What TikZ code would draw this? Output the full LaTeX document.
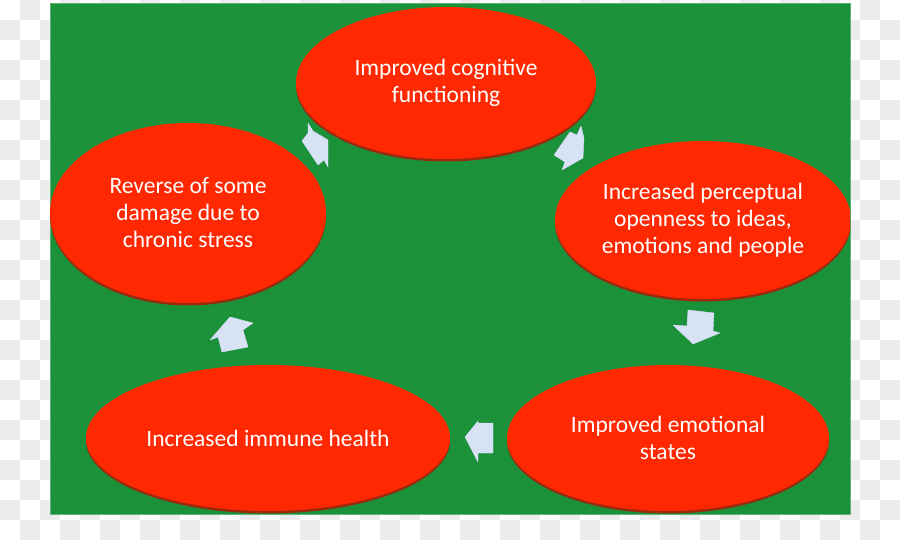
\documentclass[tikz,border=0pt]{standalone}
\usepackage{fontspec}
\setmainfont{Carlito}
\usetikzlibrary{shapes.geometric,shadows}
\definecolor{bggreen}{RGB}{27,145,58}
\definecolor{bubred}{RGB}{255,40,0}
\definecolor{bubshadow}{RGB}{170,30,10}
\definecolor{arrowblue}{RGB}{216,226,245}
\definecolor{checkgray}{RGB}{236,236,236}
\tikzset{
  bubble/.style={ellipse, fill=bubred, inner sep=0pt, text=white, align=center,
    font=\fontsize{23.5}{27}\selectfont,
    drop shadow={shadow xshift=0pt, shadow yshift=-2.5pt, fill=bubshadow, opacity=0.9}},
  blockarrow/.style={fill=arrowblue, draw=white!85!blue, line width=0.4pt, line join=round}
}
\begin{document}
\begin{tikzpicture}[x=1pt,y=-1pt]
\useasboundingbox (0,0) rectangle (900,540);
% transparency checkerboard
\fill[white] (0,0) rectangle (900,540);
\foreach \i in {0,...,44}{
  \foreach \j in {0,...,26}{
    \pgfmathparse{int(mod(\i+\j,2))}
    \ifnum\pgfmathresult=1
      \fill[checkgray] (\i*20,\j*20) rectangle ++(20,20);
    \fi
  }
}
% green panel
\fill[bggreen] (50,3) rectangle (850,514);
\draw[bggreen!70!white, line width=0.6pt] (50,3) rectangle (850,514);
\begin{scope}
\clip (50,3) rectangle (850,514);
\node[bubble, minimum width=300pt, minimum height=152pt] (cog) at (446,83) {Improved cognitive\\functioning};
\node[bubble, minimum width=296pt, minimum height=158pt] (perc) at (703,220) {Increased perceptual\\openness to ideas,\\emotions and people};
\node[bubble, minimum width=322pt, minimum height=146pt] (emo) at (668,438) {Improved emotional\\states};
\node[bubble, minimum width=364pt, minimum height=146pt] (imm) at (268,438) {Increased immune health};
\node[bubble, minimum width=276pt, minimum height=180pt] (rev) at (188,213) {Reverse of some\\damage due to\\chronic stress};
\end{scope}
% block arrows
\fill[blockarrow] (308,123) -- (313,131) -- (328,140) -- (328,167) -- (324,160) -- (318,165) -- (302,141) -- (308,133) -- cycle;
\fill[blockarrow] (581,126) -- (577,135) -- (570,132) -- (554,155) -- (565,162) -- (562,170) -- (583,158) -- (584,138) -- cycle;
\fill[blockarrow] (688,310) -- (714,313) -- (713,331) -- (720,333) -- (693,344) -- (673,325) -- (687,326) -- cycle;
\fill[blockarrow] (465,437) -- (478,421) -- (478,423) -- (493,423) -- (493,453) -- (478,453) -- (478,462) -- cycle;
\fill[blockarrow] (230,317) -- (253,323) -- (243,330) -- (248,347) -- (222,352) -- (218,337) -- (210,340) -- cycle;
\end{tikzpicture}
\end{document}
